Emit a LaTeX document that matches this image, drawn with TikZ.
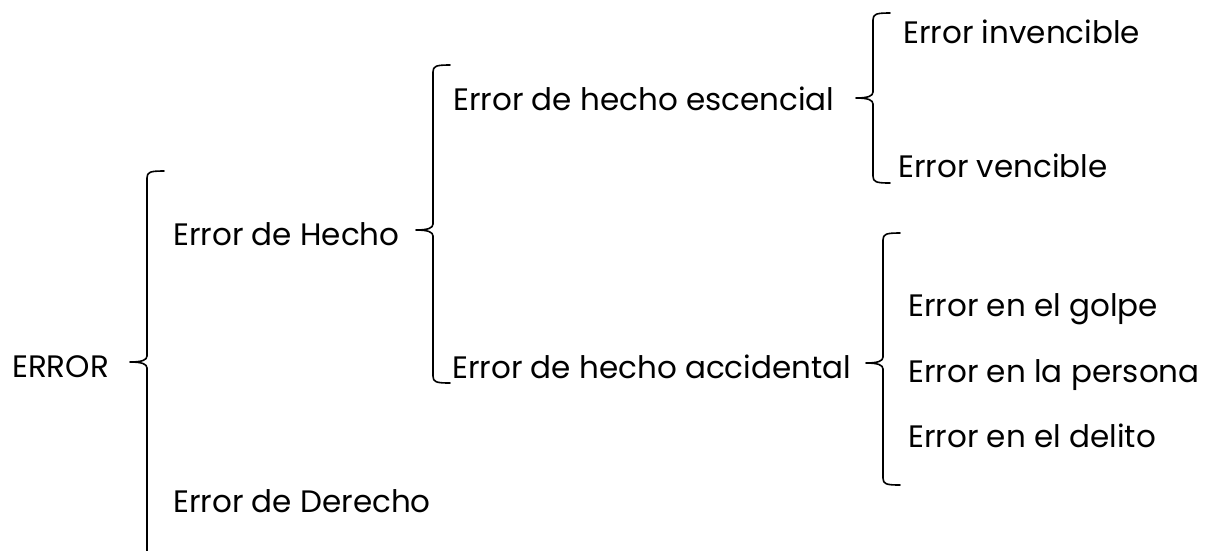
\documentclass[tikz,border=0pt]{standalone}
\usepackage{fontspec}
\setmainfont{Poppins}
\begin{document}
\begin{tikzpicture}[x=1pt,y=-1pt,
  lbl/.style={anchor=base west,inner sep=0pt,font=\fontsize{31}{34}\selectfont},
  brk/.style={line width=1.6pt,line cap=round,line join=round}]
\useasboundingbox (0,0) rectangle (1209,550);
% brace macro: x, top, mid, bottom
\newcommand{\mybrace}[4]{%
  \draw[brk] ({#1+17},#2) .. controls ({#1+3},#2) and (#1,{#2+1}) .. (#1,{#2+7})
    -- (#1,{#3-6}) .. controls (#1,{#3-2}) and ({#1-5},#3) .. ({#1-17},#3)
    .. controls ({#1-5},#3) and (#1,{#3+2}) .. (#1,{#3+6})
    -- (#1,{#4-7}) .. controls (#1,{#4-1}) and ({#1+3},#4) .. ({#1+17},#4);}
\node[lbl] (err) at (12,377) {ERROR};
\node[lbl] (hecho) at (173,245) {Error de Hecho};
\node[lbl] (derecho) at (173,512) {Error de Derecho};
\node[lbl] (esc) at (453,110) {Error de hecho escencial};
\node[lbl] (acc) at (452,378) {Error de hecho accidental};
\node[lbl] (inv) at (903,43) {Error invencible};
\node[lbl] (ven) at (898,177) {Error vencible};
\node[lbl] (gol) at (908,316) {Error en el golpe};
\node[lbl] (per) at (908,382) {Error en la persona};
\node[lbl] (del) at (908,447) {Error en el delito};
\mybrace{147}{171}{362}{575}
\mybrace{433}{65}{230}{383}
\mybrace{873}{13}{98}{183}
\mybrace{883}{233}{363}{485}
\end{tikzpicture}
\end{document}
